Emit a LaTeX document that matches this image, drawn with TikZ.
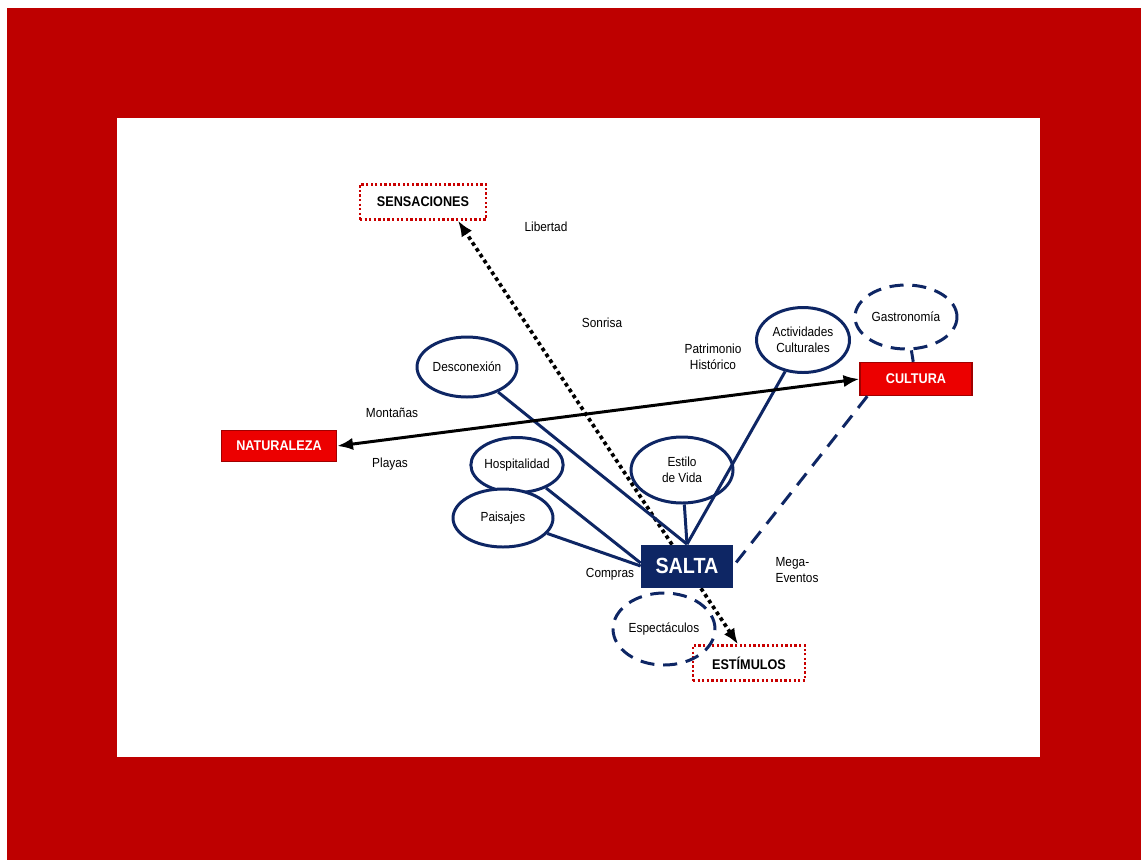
\documentclass[tikz,border=0pt]{standalone}
\usepackage{fontspec}
\setmainfont[FakeStretch=0.9]{Liberation Sans}
\usetikzlibrary{shapes.geometric,arrows.meta}
\definecolor{fondo}{RGB}{190,0,0}
\definecolor{rojo}{RGB}{236,0,0}
\definecolor{rojoborde}{RGB}{160,0,0}
\definecolor{azul}{RGB}{14,38,100}
\begin{document}
\begin{tikzpicture}[x=0.02cm,y=-0.02cm,
    etiqueta/.style={font=\fontsize{7.5}{9}\selectfont,align=center},
    elipse/.style={ellipse,draw=azul,line width=1.7pt,fill=white,inner sep=0pt,
        font=\fontsize{7.5}{9}\selectfont,align=center},
    elipsetrazos/.style={elipse,dash pattern=on 8pt off 5pt},
    caja/.style={draw=rojoborde,fill=rojo,line width=0.8pt,text=white,
        font=\bfseries\fontsize{8}{9}\selectfont,minimum height=0.64cm},
    cajapunteada/.style={draw=rojo!85!black,line width=1.3pt,dash pattern=on 1.3pt off 1.3pt,
        fill=white,font=\bfseries\fontsize{8}{9}\selectfont,minimum height=0.7cm},
    linea/.style={draw=azul,line width=1.7pt},
    lineatrazos/.style={linea,dash pattern=on 8.5pt off 5.5pt}]
                % fondo
                \fill[white] (0,0) rectangle (1141,860);
                \fill[fondo] (7,8) rectangle (1141,860);
                \fill[white] (117,118) rectangle (1040,757);
                % sensaciones y estimulos
                \node (sens) [cajapunteada, minimum width=2.52cm] at (423,202) {SENSACIONES};
                \node (estim) [cajapunteada, minimum width=2.24cm] at (749,663) {ESTÍMULOS};
                \draw[{Latex[length=9pt,width=7pt]}-{Latex[length=9pt,width=7pt]}, line width=2.1pt,
                    dash pattern=on 2.1pt off 1.9pt] ([xshift=-0.22cm]estim.north) to ([xshift=0.7cm]sens.south);
                % nodo central
                \node (salta) [fill=azul, text=white, minimum width=1.84cm, minimum height=0.86cm,
                    font=\bfseries\fontsize{12.5}{14}\selectfont] at (687,566) {SALTA};
                \node (natu) [caja, minimum width=2.3cm, minimum height=0.62cm] at (279,446) {NATURALEZA};
                \node (cult) [caja, minimum width=2.24cm, minimum height=0.66cm] at (916,379) {CULTURA};
                \node (desc) [elipse, minimum width=2cm, minimum height=1.2cm] at (467,367) {Desconexión};
                \node (acti) [elipse, minimum width=1.86cm, minimum height=1.3cm] at (803,340) {Actividades\\Culturales};
                \node (gastro) [elipsetrazos, minimum width=2.04cm, minimum height=1.28cm] at (906,317) {Gastronomía};
                \node (hosp) [elipse, minimum width=1.8cm, minimum height=1.1cm] at (517,465) {Hospitalidad};
                \node (pais) [elipse, minimum width=2cm, minimum height=1.16cm] at (503,518) {Paisajes};
                \node (estilo) [elipse, minimum width=2.04cm, minimum height=1.32cm] at (682,470) {Estilo\\de Vida};
                \node (espect) [elipsetrazos, fill=none, minimum width=2.04cm, minimum height=1.44cm] at (664,629) {Espectáculos};
                % textos sueltos
                \node (libertad) [etiqueta] at (546,227) {Libertad};
                \node (sonrisa) [etiqueta] at (602,323) {Sonrisa};
                \node (patri) [etiqueta] at (713,357) {Patrimonio\\Histórico};
                \node (montanas) [etiqueta] at (392,413) {Montañas};
                \node (playas) [etiqueta] at (390,464) {Playas};
                \node (compras) [etiqueta] at (610,574) {Compras};
                \node (mega) [etiqueta, align=left] at (797,570) {Mega-\\Eventos};
                % conexiones
                \draw[linea] (desc) to (salta.north);
                \draw[linea] (hosp) to ([yshift=0.06cm]salta.west);
                \draw[linea] (pais) to (salta.west);
                \draw[linea] (estilo) to (salta.north);
                \draw[linea] (acti) to (salta.north);
                \draw[lineatrazos] ([xshift=0.16cm]cult.south west) to (salta.east);
                \draw[lineatrazos] (gastro) to (cult);
                \draw[{Latex[length=9pt,width=7pt]}-{Latex[length=9pt,width=7pt]}, line width=1.7pt] (cult.west) to (natu.east);
            \end{tikzpicture}
\end{document}
